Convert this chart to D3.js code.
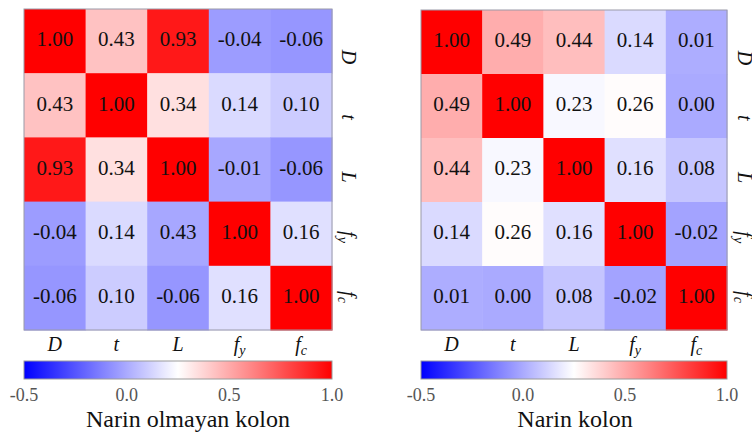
<!DOCTYPE html>
<html>
<head>
<meta charset="utf-8">
<script src="https://cdn.jsdelivr.net/npm/d3@7"></script>
<style>
  html, body { margin: 0; padding: 0; background: #fff; }
  svg { display: block; }
</style>
</head>
<body>
<svg id="chart" width="752" height="437"></svg>
<script>
// ---------- data ----------
const variables = ["D", "t", "L", "fy", "fc"];
const varMain = ["D", "t", "L", "f", "f"];
const varSub  = ["", "", "", "y", "c"];

// "Narin olmayan kolon" correlation matrix (colour values)
const leftValues = [
  [ 1.00, 0.43, 0.93, -0.04, -0.06],
  [ 0.43, 1.00, 0.34,  0.14,  0.10],
  [ 0.93, 0.34, 1.00, -0.01, -0.06],
  [-0.04, 0.14, -0.01, 1.00,  0.16],
  [-0.06, 0.10, -0.06, 0.16,  1.00]
];
// printed labels (the original shows 0.43 in the fy/L cell)
const leftLabels = [
  ["1.00", "0.43", "0.93", "-0.04", "-0.06"],
  ["0.43", "1.00", "0.34", "0.14", "0.10"],
  ["0.93", "0.34", "1.00", "-0.01", "-0.06"],
  ["-0.04", "0.14", "0.43", "1.00", "0.16"],
  ["-0.06", "0.10", "-0.06", "0.16", "1.00"]
];

// "Narin kolon" correlation matrix
const rightValues = [
  [1.00, 0.49, 0.44, 0.14, 0.01],
  [0.49, 1.00, 0.23, 0.26, 0.00],
  [0.44, 0.23, 1.00, 0.16, 0.08],
  [0.14, 0.26, 0.16, 1.00, -0.02],
  [0.01, 0.00, 0.08, -0.02, 1.00]
];
const rightLabels = rightValues.map(r => r.map(v => v.toFixed(2)));

const colorTicks = [-0.5, 0.0, 0.5, 1.0];
const colorDomain = [-0.5, 0.25, 1.0];
const titles = ["Narin olmayan kolon", "Narin kolon"];

// ---------- layout ----------
const panels = [
  {x0: 24, x1: 332, y0: 9, y1: 330, values: leftValues, labels: leftLabels, title: titles[0], titleX: 188, rlab: 10},
  {x0: 421, x1: 727, y0: 10, y1: 330, values: rightValues, labels: rightLabels, title: titles[1], titleX: 575, rlab: 11}
];
const cbY0 = 361, cbY1 = 379;
const FONT = '"Liberation Serif"';

const color = d3.scaleLinear().domain(colorDomain).range(["#0000ff", "#ffffff", "#ff0000"]);

const svg = d3.select("#chart").style("font-family", FONT);
const defs = svg.append("defs");
const grad = defs.append("linearGradient").attr("id", "cbgrad").attr("x1", "0%").attr("x2", "100%");
d3.range(0, 1.0001, 0.05).forEach(t => {
  grad.append("stop").attr("offset", (t * 100) + "%").attr("stop-color", color(-0.5 + 1.5 * t));
});

function labelText(sel, i, subSize) {
  sel.append("tspan").text(varMain[i]);
  if (varSub[i]) {
    sel.append("tspan").attr("font-size", subSize).attr("dy", "0.3em").text(varSub[i]);
  }
}

panels.forEach(p => {
  const g = svg.append("g");
  const x = d3.scaleBand().domain(variables).range([p.x0, p.x1]);
  const y = d3.scaleBand().domain(variables).range([p.y0, p.y1]);

  const cells = [];
  p.values.forEach((row, i) => row.forEach((v, j) => cells.push({i, j, v, label: p.labels[i][j]})));

  g.selectAll("rect.cell").data(cells).join("rect")
    .attr("class", "cell")
    .attr("x", d => x(variables[d.j]))
    .attr("y", d => y(variables[d.i]))
    .attr("width", x.bandwidth() + 0.5)
    .attr("height", y.bandwidth() + 0.5)
    .attr("fill", d => color(d.v));

  g.append("rect")
    .attr("x", p.x0).attr("y", p.y0)
    .attr("width", p.x1 - p.x0).attr("height", p.y1 - p.y0)
    .attr("fill", "none").attr("stroke", "#9a9aa8").attr("stroke-width", 1);

  g.selectAll("text.val").data(cells).join("text")
    .attr("class", "val")
    .attr("x", d => x(variables[d.j]) + x.bandwidth() / 2)
    .attr("y", d => y(variables[d.i]) + y.bandwidth() / 2 - 2)
    .attr("dy", "0.35em")
    .attr("text-anchor", "middle")
    .style("font-family", FONT)
    .attr("font-size", 21)
    .attr("fill", "#111")
    .text(d => d.label);

  // bottom labels
  variables.forEach((v, i) => {
    const t = g.append("text")
      .attr("x", x(v) + x.bandwidth() / 2)
      .attr("y", p.y1 + 21)
      .attr("text-anchor", "middle")
      .style("font-family", FONT)
      .attr("font-style", "italic")
      .attr("font-size", 20)
      .attr("fill", "#111");
    labelText(t, i, 14);
  });

  // right labels (rotated)
  const yr = d3.scalePoint().domain(variables).range([p.y0 + 48, p.y1 - 33]);
  variables.forEach((v, i) => {
    const t = g.append("text")
      .attr("transform", `translate(${p.x1 + p.rlab},${yr(v)}) rotate(90)`)
      .attr("text-anchor", "middle")
      .style("font-family", FONT)
      .attr("font-style", "italic")
      .attr("font-size", 20)
      .attr("fill", "#111");
    labelText(t, i, 14);
  });

  // colorbar
  g.append("rect")
    .attr("x", p.x0).attr("y", cbY0)
    .attr("width", p.x1 - p.x0).attr("height", cbY1 - cbY0)
    .attr("fill", "url(#cbgrad)")
    .attr("stroke", "#9a9a9a").attr("stroke-width", 1);

  const cx = d3.scaleLinear().domain([-0.5, 1.0]).range([p.x0, p.x1]);
  g.selectAll("text.tick").data(colorTicks).join("text")
    .attr("class", "tick")
    .attr("x", d => cx(d))
    .attr("y", 401)
    .attr("text-anchor", "middle")
    .style("font-family", FONT)
    .attr("font-size", 18)
    .attr("fill", "#555")
    .text(d => d3.format(".1f")(d).replace("−", "-"));

  g.append("text")
    .attr("x", p.titleX)
    .attr("y", 427)
    .attr("text-anchor", "middle")
    .style("font-family", FONT)
    .attr("font-size", 24)
    .attr("fill", "#111")
    .text(p.title);
});
</script>
</body>
</html>
